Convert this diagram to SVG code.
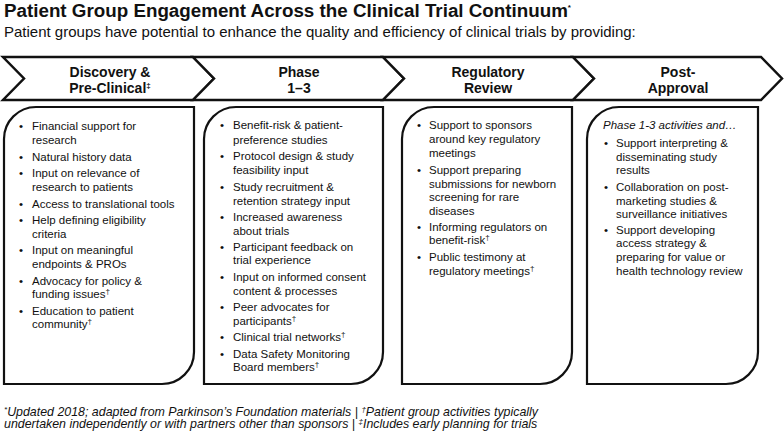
<svg xmlns="http://www.w3.org/2000/svg" width="784" height="432" viewBox="0 0 784 432">
<style>
text{font-family:"Liberation Sans",Arial,Helvetica,sans-serif;fill:#111}
.title{font-size:18.8px;font-weight:bold}
.sub{font-size:15px}
.hd{font-size:14px;font-weight:bold;text-anchor:middle}
.b{font-size:11.5px}
.ft{font-size:12.4px;font-style:italic}
.it{font-style:italic}
.sup{font-size:8px}
.chev{fill:#fff;stroke:#111;stroke-width:2.5;stroke-linejoin:miter}
.box{fill:#fff;stroke:#111;stroke-width:2.2}
</style>
<rect width="784" height="432" fill="#fff"/>
<g id="title"><text class="title" x="4" y="17">Patient Group Engagement Across the Clinical Trial Continuum<tspan class="sup" dy="-7">*</tspan></text></g>
<g id="subtitle"><text class="sub" x="4" y="37">Patient groups have potential to enhance the quality and efficiency of clinical trials by providing:</text></g>

<g id="stage-discovery">
<polygon class="chev" points="3,57 193,57 214,78.5 193,100 3,100 24,78.5"/>
<text class="hd" x="110" y="76.5">Discovery &amp;</text>
<text class="hd" x="110" y="93">Pre-Clinical<tspan class="sup" dy="-5">‡</tspan></text>
</g>
<g id="stage-phase">
<polygon class="chev" points="193,57 383,57 404,78.5 383,100 193,100 214,78.5"/>
<text class="hd" x="299" y="76.5">Phase</text>
<text class="hd" x="299" y="93">1–3</text>
</g>
<g id="stage-regulatory">
<polygon class="chev" points="383,57 573,57 594,78.5 573,100 383,100 404,78.5"/>
<text class="hd" x="488" y="76.5">Regulatory</text>
<text class="hd" x="488" y="93">Review</text>
</g>
<g id="stage-post">
<polygon class="chev" points="573,57 761,57 782,78.5 761,100 573,100 594,78.5"/>
<text class="hd" x="678" y="76.5">Post-</text>
<text class="hd" x="678" y="93">Approval</text>
</g>

<g id="box-discovery">
<path class="box" d="M4,139 A32,32 0 0 1 36,107 H194 V352 A32,32 0 0 1 162,384 H4 Z"/>
<text class="b">
<tspan x="19" y="130">•</tspan><tspan x="32" y="130">Financial support for</tspan><tspan x="32" y="144">research</tspan>
<tspan x="19" y="160.5">•</tspan><tspan x="32" y="160.5">Natural history data</tspan>
<tspan x="19" y="177">•</tspan><tspan x="32" y="177">Input on relevance of</tspan><tspan x="32" y="191">research to patients</tspan>
<tspan x="19" y="207.5">•</tspan><tspan x="32" y="207.5">Access to translational tools</tspan>
<tspan x="19" y="223.5">•</tspan><tspan x="32" y="223.5">Help defining eligibility</tspan><tspan x="32" y="237.5">criteria</tspan>
<tspan x="19" y="254">•</tspan><tspan x="32" y="254">Input on meaningful</tspan><tspan x="32" y="268">endpoints &amp; PROs</tspan>
<tspan x="19" y="284.5">•</tspan><tspan x="32" y="284.5">Advocacy for policy &amp;</tspan><tspan x="32" y="298">funding issues<tspan class="sup" dy="-4">†</tspan></tspan>
<tspan x="19" y="314.5">•</tspan><tspan x="32" y="314.5">Education to patient</tspan><tspan x="32" y="328">community<tspan class="sup" dy="-4">†</tspan></tspan>
</text>
</g>

<g id="box-phase">
<path class="box" d="M204,139 A32,32 0 0 1 236,107 H383 V352 A32,32 0 0 1 351,384 H204 Z"/>
<text class="b">
<tspan x="220" y="129">•</tspan><tspan x="233" y="129">Benefit-risk &amp; patient-</tspan><tspan x="233" y="143.5">preference studies</tspan>
<tspan x="220" y="160">•</tspan><tspan x="233" y="160">Protocol design &amp; study</tspan><tspan x="233" y="174">feasibility input</tspan>
<tspan x="220" y="190.5">•</tspan><tspan x="233" y="190.5">Study recruitment &amp;</tspan><tspan x="233" y="204.5">retention strategy input</tspan>
<tspan x="220" y="220.5">•</tspan><tspan x="233" y="220.5">Increased awareness</tspan><tspan x="233" y="234.5">about trials</tspan>
<tspan x="220" y="250.5">•</tspan><tspan x="233" y="250.5">Participant feedback on</tspan><tspan x="233" y="264">trial experience</tspan>
<tspan x="220" y="281">•</tspan><tspan x="233" y="281">Input on informed consent</tspan><tspan x="233" y="294.5">content &amp; processes</tspan>
<tspan x="220" y="311">•</tspan><tspan x="233" y="311">Peer advocates for</tspan><tspan x="233" y="324.5">participants<tspan class="sup" dy="-4">†</tspan></tspan>
<tspan x="220" y="341">•</tspan><tspan x="233" y="341">Clinical trial networks<tspan class="sup" dy="-4">†</tspan></tspan>
<tspan x="220" y="357.5">•</tspan><tspan x="233" y="357.5">Data Safety Monitoring</tspan><tspan x="233" y="371">Board members<tspan class="sup" dy="-4">†</tspan></tspan>
</text>
</g>

<g id="box-regulatory">
<path class="box" d="M402,139 A32,32 0 0 1 434,107 H572 V352 A32,32 0 0 1 540,384 H402 Z"/>
<text class="b">
<tspan x="417" y="129">•</tspan><tspan x="429" y="129">Support to sponsors</tspan><tspan x="429" y="143.3">around key regulatory</tspan><tspan x="429" y="157.3">meetings</tspan>
<tspan x="417" y="174">•</tspan><tspan x="429" y="174">Support preparing</tspan><tspan x="429" y="187.5">submissions for newborn</tspan><tspan x="429" y="201.3">screening for rare</tspan><tspan x="429" y="214.7">diseases</tspan>
<tspan x="417" y="230.7">•</tspan><tspan x="429" y="230.7">Informing regulators on</tspan><tspan x="429" y="244">benefit-risk<tspan class="sup" dy="-4">†</tspan></tspan>
<tspan x="417" y="260.7">•</tspan><tspan x="429" y="260.7">Public testimony at</tspan><tspan x="429" y="274.7">regulatory meetings<tspan class="sup" dy="-4">†</tspan></tspan>
</text>
</g>

<g id="box-post">
<path class="box" d="M587,139 A32,32 0 0 1 619,107 H758 V352 A32,32 0 0 1 726,384 H587 Z"/>
<text class="b">
<tspan class="it" x="603" y="129">Phase 1-3 activities and…</tspan>
<tspan x="604" y="146.7">•</tspan><tspan x="616" y="146.7">Support interpreting &amp;</tspan><tspan x="616" y="160.7">disseminating study</tspan><tspan x="616" y="174">results</tspan>
<tspan x="604" y="191.3">•</tspan><tspan x="616" y="191.3">Collaboration on post-</tspan><tspan x="616" y="204.7">marketing studies &amp;</tspan><tspan x="616" y="218">surveillance initiatives</tspan>
<tspan x="604" y="234">•</tspan><tspan x="616" y="234">Support developing</tspan><tspan x="616" y="247.3">access strategy &amp;</tspan><tspan x="616" y="261.3">preparing for value or</tspan><tspan x="616" y="274.7">health technology review</tspan>
</text>
</g>

<g id="footer">
<text class="ft"><tspan x="4" y="415.5"><tspan class="sup" dy="-4">*</tspan><tspan dy="4">Updated 2018; adapted from Parkinson’s Foundation materials | </tspan><tspan class="sup" dy="-4">†</tspan><tspan dy="4">Patient group activities typically</tspan></tspan><tspan x="4" y="428">undertaken independently or with partners other than sponsors | <tspan class="sup" dy="-4">‡</tspan><tspan dy="4">Includes early planning for trials</tspan></tspan></text>
</g>
</svg>
